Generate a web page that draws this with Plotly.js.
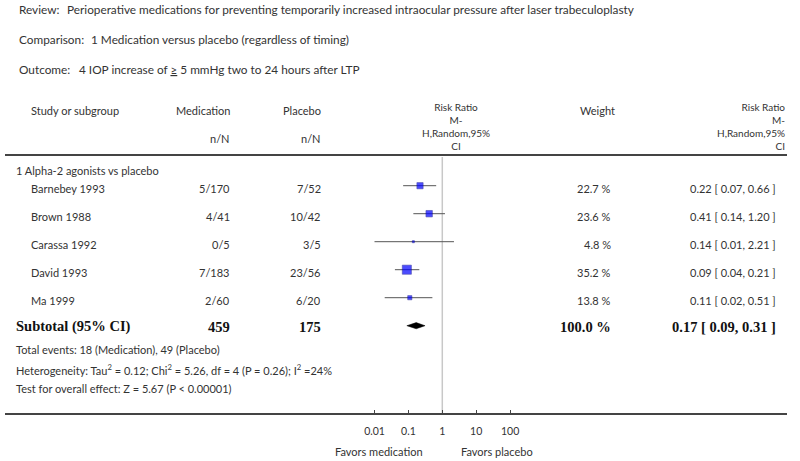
<!DOCTYPE html>
<html>
<head>
<meta charset="utf-8">
<script src="https://cdn.plot.ly/plotly-3.0.1.min.js"></script>
<style>html,body{margin:0;padding:0;background:#fff;}#chart{width:800px;height:461px;}</style>
</head>
<body>
<div id="chart"></div>
<script>
// ---- data ----
const studies = ["Barnebey 1993", "Brown 1988", "Carassa 1992", "David 1993", "Ma 1999"];
const medication = ["5/170", "4/41", "0/5", "7/183", "2/60"];
const placebo = ["7/52", "10/42", "3/5", "23/56", "6/20"];
const rr = [0.22, 0.41, 0.14, 0.09, 0.11];
const rrLow = [0.07, 0.14, 0.01, 0.04, 0.02];
const rrHigh = [0.66, 1.20, 2.21, 0.21, 0.51];
const weights = [22.7, 23.6, 4.8, 35.2, 13.8];
const subtotal = {label: "Subtotal (95% CI)", medN: "459", plaN: "175", weight: 100.0, rr: 0.17, low: 0.09, high: 0.31};
const tickVals = [0.01, 0.1, 1, 10, 100];
const tickText = ["0.01", "0.1", "1", "10", "100"];
const subgroup = "1 Alpha-2 agonists vs placebo";

// ---- helpers ----
const W = 800, H = 461;
const px = x => x / W;
const py = y => 1 - y / H;
const FONT = "Lato, 'Open Sans', sans-serif";
const SERIF = "'Liberation Serif', 'DejaVu Serif', serif";
const TXT = "#333";
const ROW0 = 185.7, ROWH = 28;           // row layout (pixels)
const fmt2 = v => v.toFixed(2);

const anns = [];
function txt(text, x, y, anchor, opts) {
  opts = opts || {};
  anns.push({
    text: text, xref: "paper", yref: "paper", x: px(x), y: py(y),
    xanchor: anchor || "left", yanchor: "middle", showarrow: false,
    align: opts.align || anchor || "left",
    font: {family: opts.family || FONT, size: opts.size || 11, color: opts.color || TXT}
  });
}

// header block
const HS = 11.8;
txt("Review:", 17, 10, "left", {size: HS});
txt("Perioperative medications for preventing temporarily increased intraocular pressure after laser trabeculoplasty", 65, 10, "left", {size: HS});
txt("Comparison:", 17, 39, "left", {size: HS});
txt("1 Medication versus placebo (regardless of timing)", 89, 39, "left", {size: HS});
txt("Outcome:", 17, 69, "left", {size: HS});
txt("4 IOP increase of <u>≥</u> 5 mmHg two to 24 hours after LTP", 77, 69, "left", {size: HS});

// column headers
txt("Study or subgroup", 29, 111, "left");
txt("Medication", 232, 111, "right");
txt("n/N", 232, 138, "right");
txt("Placebo", 323, 111, "right");
txt("n/N", 323, 138, "right");
txt("Risk Ratio<br>M-<br>H,Random,95%<br>CI", 456, 126, "center", {size: 10});
txt("Weight", 597, 111, "center");
txt("Risk Ratio<br>M-<br>H,Random,95%<br>CI", 787, 126, "right", {size: 10});

txt(subgroup, 14, 170, "left");

// study rows
studies.forEach((s, i) => {
  const y = ROW0 + ROWH * i + 2.5;
  txt(s, 29, y, "left");
  txt(medication[i], 232, y, "right");
  txt(placebo[i], 323, y, "right");
  txt(weights[i].toFixed(1) + " %", 613, y, "right");
  txt(fmt2(rr[i]) + " [ " + fmt2(rrLow[i]) + ", " + fmt2(rrHigh[i]) + " ]", 778, y, "right");
});

// subtotal row
const ySub = ROW0 + ROWH * studies.length + 1;
const bold = {family: SERIF, size: 14.5, color: "#111"};
txt("<b>" + subtotal.label + "</b>", 14, ySub, "left", bold);
txt("<b>" + subtotal.medN + "</b>", 232, ySub, "right", bold);
txt("<b>" + subtotal.plaN + "</b>", 323, ySub, "right", bold);
txt("<b>" + subtotal.weight.toFixed(1) + " %</b>", 613, ySub, "right", bold);
txt("<b>" + fmt2(subtotal.rr) + " [ " + fmt2(subtotal.low) + ", " + fmt2(subtotal.high) + " ]</b>", 778, ySub, "right", bold);

txt("Total events: 18 (Medication), 49 (Placebo)", 14, 349, "left");
txt("Heterogeneity: Tau<sup>2</sup> = 0.12; Chi<sup>2</sup> = 5.26, df = 4 (P = 0.26); I<sup>2</sup> =24%", 14, 369, "left");
txt("Test for overall effect: Z = 5.67 (P < 0.00001)", 14, 388, "left");

txt("Favors medication", 425, 451, "right");
txt("Favors placebo", 459, 451, "left");

// ---- traces ----
const ciX = [], ciY = [];
studies.forEach((s, i) => { ciX.push(rrLow[i], rrHigh[i], null); ciY.push(i, i, null); });

const rowIdx = studies.map((s, i) => i);
const subIdx = studies.length;
const dh = 0.11;

const traces = [
  {x: ciX, y: ciY, mode: "lines", line: {color: "#555", width: 1}, hoverinfo: "skip", showlegend: false},
  {x: rr, y: rowIdx, mode: "markers", showlegend: false,
   marker: {symbol: "square", color: "#0000ff", size: weights.map(w => 1 + 0.23 * w),
            line: {color: "#00008b", width: 0.6}}},
  {x: [subtotal.low, subtotal.rr, subtotal.high, subtotal.rr, subtotal.low],
   y: [subIdx, subIdx - dh, subIdx, subIdx + dh, subIdx],
   mode: "lines", fill: "toself", fillcolor: "#000", line: {color: "#000", width: 0.5}, showlegend: false}
];

// x axis: log scale, 1 at 442.3 px, 33.9 px per decade
const x1 = 442.3, dec = 33.9, span = 3;
const layout = {
  width: W, height: H, margin: {l: 0, r: 0, t: 0, b: 0},
  paper_bgcolor: "#fff", plot_bgcolor: "rgba(0,0,0,0)", showlegend: false,
  xaxis: {type: "log", range: [-span, span],
          domain: [px(x1 - dec * span), px(x1 + dec * span)],
          anchor: "free", position: py(414),
          tickvals: tickVals, ticktext: tickText, ticks: "inside", ticklen: 4, tickwidth: 1, tickcolor: "#444",
          showline: false, showgrid: false, zeroline: false, ticklabelstandoff: 9,
          tickfont: {family: FONT, size: 10.5, color: TXT}, fixedrange: true},
  yaxis: {range: [(H - ROW0) / ROWH, -ROW0 / ROWH], domain: [0, 1], visible: false, fixedrange: true},
  shapes: [
    {type: "line", xref: "paper", yref: "paper", x0: px(5), x1: px(787), y0: py(155), y1: py(155), line: {color: "#444", width: 2}},
    {type: "line", xref: "paper", yref: "paper", x0: px(5), x1: px(787), y0: py(414), y1: py(414), line: {color: "#444", width: 2}},
    {type: "line", xref: "x", yref: "paper", x0: 1, x1: 1, y0: py(157), y1: py(413), line: {color: "#c8c8c8", width: 1.5}, layer: "below"}
  ],
  annotations: anns
};

Plotly.newPlot("chart", traces, layout, {displayModeBar: false, staticPlot: true});
</script>
</body>
</html>
